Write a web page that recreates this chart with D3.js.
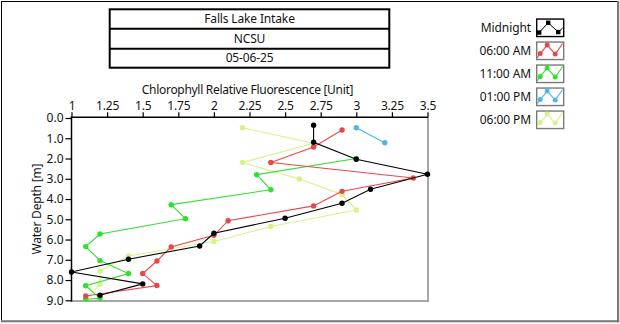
<!DOCTYPE html>
<html>
<head>
<meta charset="utf-8">
<script src="https://cdn.jsdelivr.net/npm/d3@7/dist/d3.min.js"></script>
<style>
  html, body { margin: 0; padding: 0; background: #fff; }
  svg { display: block; font-family: "Noto Sans", "Open Sans", sans-serif; }
</style>
</head>
<body>
<svg id="chart" width="620" height="324"></svg>
<script>
// Header lines
const titleLines = ["Falls Lake Intake", "NCSU", "05-06-25"];

// Series names and colours
const seriesNames = ["Midnight", "06:00 AM", "11:00 AM", "01:00 PM", "06:00 PM"];
const seriesColors = ["#000000", "#e8474a", "#2fe02f", "#4cb6ee", "#d6f28a"];

// Chlorophyll relative fluorescence [Unit] per sample, with the matching depth [m]
const midnightValue = [2.7, 2.7, 3.0, 3.5, 3.1, 2.9, 2.5, 2.0, 1.9, 1.4, 1.0, 1.5, 1.2];
const midnightDepth = [0.36, 1.2, 2.04, 2.78, 3.52, 4.21, 4.95, 5.69, 6.32, 6.97, 7.6, 8.19, 8.75];
const am6Value = [2.9, 2.7, 2.4, 3.4, 2.9, 2.7, 2.1, 2.0, 1.7, 1.6, 1.5, 1.6, 1.1];
const am6Depth = [0.59, 1.43, 2.2, 2.96, 3.62, 4.34, 5.07, 5.79, 6.37, 7.06, 7.68, 8.27, 8.79];
const am11Value = [3.0, 2.3, 2.4, 1.7, 1.8, 1.2, 1.1, 1.2, 1.4, 1.1, 1.2, 1.1];
const am11Depth = [2.0, 2.8, 3.54, 4.28, 4.97, 5.73, 6.35, 7.04, 7.68, 8.28, 8.9, 8.95];
const pm1Value = [3.0, 3.2];
const pm1Depth = [0.48, 1.22];
const pm6Value = [2.2, 2.7, 2.2, 2.6, 2.9, 3.0, 2.4, 2.0, 1.4, 1.2, 1.2, 1.1];
const pm6Depth = [0.48, 1.25, 2.2, 3.01, 3.78, 4.54, 5.36, 6.1, 6.81, 7.54, 8.21, 8.95];

// Axis ticks
const xTicks = [1, 1.25, 1.5, 1.75, 2, 2.25, 2.5, 2.75, 3, 3.25, 3.5];
const xTickLabels = ["1", "1.25", "1.5", "1.75", "2", "2.25", "2.5", "2.75", "3", "3.25", "3.5"];
const yTicks = [0, 1, 2, 3, 4, 5, 6, 7, 8, 9];
const yTickLabels = ["0.0", "1.0", "2.0", "3.0", "4.0", "5.0", "6.0", "7.0", "8.0", "9.0"];

const xTitle = "Chlorophyll Relative Fluorescence [Unit]";
const yTitle = "Water Depth [m]";

const seriesValues = [midnightValue, am6Value, am11Value, pm1Value, pm6Value];
const seriesDepths = [midnightDepth, am6Depth, am11Depth, pm1Depth, pm6Depth];

const series = seriesNames.map((name, i) => ({
  name, color: seriesColors[i],
  points: seriesValues[i].map((v, j) => ({ v, d: seriesDepths[i][j] }))
}));

const svg = d3.select("#chart");
const textColor = "#141414";

// Panel frame
svg.append("rect").attr("x", 0).attr("y", 0).attr("width", 620).attr("height", 324).attr("fill", "#fff");
svg.append("line").attr("x1", 1).attr("x2", 618).attr("y1", 1.5).attr("y2", 1.5).attr("stroke", "#000").attr("stroke-width", 1);
svg.append("line").attr("x1", 1.5).attr("x2", 1.5).attr("y1", 1).attr("y2", 321).attr("stroke", "#000").attr("stroke-width", 1);
svg.append("rect").attr("x", 617).attr("y", 1).attr("width", 2.2).attr("height", 321.3).attr("fill", "#7a7a7a");
svg.append("rect").attr("x", 1).attr("y", 320.2).attr("width", 618.2).attr("height", 2.1).attr("fill", "#7a7a7a");

// Header boxes
const hdr = { x0: 109.7, x1: 389.3, ys: [9.3, 28.7, 48.7, 67.7] };
const hdrG = svg.append("g");
hdrG.append("rect")
  .attr("x", hdr.x0).attr("y", hdr.ys[0])
  .attr("width", hdr.x1 - hdr.x0).attr("height", hdr.ys[3] - hdr.ys[0])
  .attr("fill", "none").attr("stroke", "#000").attr("stroke-width", 2);
hdr.ys.slice(1, 3).forEach(y => {
  hdrG.append("line").attr("x1", hdr.x0).attr("x2", hdr.x1).attr("y1", y).attr("y2", y)
    .attr("stroke", "#000").attr("stroke-width", 2);
});
titleLines.forEach((t, i) => {
  hdrG.append("text")
    .attr("x", (hdr.x0 + hdr.x1) / 2)
    .attr("y", (hdr.ys[i] + hdr.ys[i + 1]) / 2)
    .attr("dy", "0.35em")
    .attr("text-anchor", "middle")
    .attr("font-size", 12).attr("fill", textColor)
    .attr("letter-spacing", -0.15)
    .text(t);
});

// Plot area
const plot = { left: 71.5, right: 428, top: 117.3, bottom: 301 };
const x = d3.scaleLinear().domain([1, 3.5]).range([71.5, 427.5]);
const y = d3.scaleLinear().domain([0, 9]).range([118, 300.3]);

// Plot border: dark top/left, grey bottom/right
svg.append("line").attr("x1", plot.right).attr("x2", plot.right).attr("y1", plot.top).attr("y2", plot.bottom + 1)
  .attr("stroke", "#8a8a8a").attr("stroke-width", 1.5);
svg.append("line").attr("x1", plot.left).attr("x2", plot.right).attr("y1", plot.bottom).attr("y2", plot.bottom)
  .attr("stroke", "#8a8a8a").attr("stroke-width", 1.5);

// Axes
const xAxis = d3.axisTop(x).tickValues(xTicks)
  .tickFormat((d, i) => xTickLabels[i]).tickSize(5).tickPadding(2).tickSizeOuter(0);
const gx = svg.append("g").attr("transform", `translate(0,${plot.top})`).call(xAxis);
gx.select(".domain").attr("stroke", "#000").attr("stroke-width", 1.5).attr("d", `M${plot.left - 0.7},0H${plot.right}`);
gx.selectAll(".tick line").attr("stroke", "#000").attr("stroke-width", 1.2);
gx.selectAll(".tick text").attr("font-size", 12).attr("fill", textColor)
  .attr("font-family", "'Noto Sans', sans-serif").attr("letter-spacing", -0.2);

const yAxis = d3.axisLeft(y).tickValues(yTicks)
  .tickFormat((d, i) => yTickLabels[i]).tickSize(6).tickPadding(2).tickSizeOuter(0);
const gy = svg.append("g").attr("transform", `translate(${plot.left},0)`).call(yAxis);
gy.select(".domain").attr("stroke", "#000").attr("stroke-width", 1.5).attr("d", `M0,${plot.top - 0.7}V${plot.bottom + 0.7}`);
gy.selectAll(".tick line").attr("stroke", "#000").attr("stroke-width", 1.2);
gy.selectAll(".tick text").attr("font-size", 12).attr("fill", textColor)
  .attr("font-family", "'Noto Sans', sans-serif");

// Axis titles
svg.append("text")
  .attr("x", 247.5).attr("y", 89.5).attr("dy", "0.35em")
  .attr("text-anchor", "middle").attr("font-size", 12).attr("fill", textColor)
  .attr("letter-spacing", -0.3)
  .text(xTitle);
svg.append("text")
  .attr("transform", `translate(37,${(plot.top + plot.bottom) / 2}) rotate(-90)`)
  .attr("dy", "0.35em")
  .attr("text-anchor", "middle").attr("font-size", 12).attr("fill", textColor)
  .attr("letter-spacing", -0.2)
  .text(yTitle);

// Profiles: later series underneath, Midnight on top
const line = d3.line().x(p => x(p.v)).y(p => y(p.d));
const drawOrder = series.slice().reverse();
const plotG = svg.append("g");
drawOrder.forEach(s => {
  const g = plotG.append("g");
  g.append("path").datum(s.points)
    .attr("d", line).attr("fill", "none")
    .attr("stroke", s.color).attr("stroke-width", 1.1);
  g.selectAll("circle").data(s.points).join("circle")
    .attr("cx", p => x(p.v)).attr("cy", p => y(p.d))
    .attr("r", 2.7).attr("fill", s.color);
});

// Legend
const legend = svg.append("g");
const rowY = [27.8, 50.8, 73.8, 96.8, 119.8];
const sw = { x: 536.7, w: 27, h: 17.5 };
series.forEach((s, i) => {
  const cy = rowY[i];
  legend.append("text")
    .attr("x", 531).attr("y", cy).attr("dy", "0.35em")
    .attr("text-anchor", "end").attr("font-size", 12).attr("fill", textColor)
    .attr("letter-spacing", -0.1)
    .text(s.name);
  const top = cy - sw.h / 2;
  const bx = legend.append("g").attr("transform", `translate(${sw.x},${top})`);
  bx.append("rect").attr("x", 0).attr("y", 0).attr("width", sw.w).attr("height", sw.h)
    .attr("fill", "#fff").attr("stroke", i === 0 ? "#000" : "#7a7a7a").attr("stroke-width", 1.4);
  if (i === 0) {
    const pts = [[2.5, 13.5], [11.5, 3.7], [21.5, 13]];
    bx.append("path").attr("d", d3.line()(pts.concat([[26, 9]])))
      .attr("fill", "none").attr("stroke", s.color).attr("stroke-width", 1);
    bx.selectAll("rect.m").data(pts).join("rect").attr("class", "m")
      .attr("x", p => p[0] - 2.2).attr("y", p => p[1] - 2.2)
      .attr("width", 4.4).attr("height", 4.4).attr("fill", s.color);
  } else {
    const pts = [[3.5, 11.5], [10.5, 3], [18.5, 12], [26, 1.5]];
    bx.append("path").attr("d", d3.line()([[0.5, 15.5]].concat(pts)))
      .attr("fill", "none").attr("stroke", s.color).attr("stroke-width", 1.1);
    bx.selectAll("circle").data(pts.slice(0, 3)).join("circle")
      .attr("cx", p => p[0]).attr("cy", p => p[1]).attr("r", 2.5).attr("fill", s.color);
  }
});
</script>
</body>
</html>
